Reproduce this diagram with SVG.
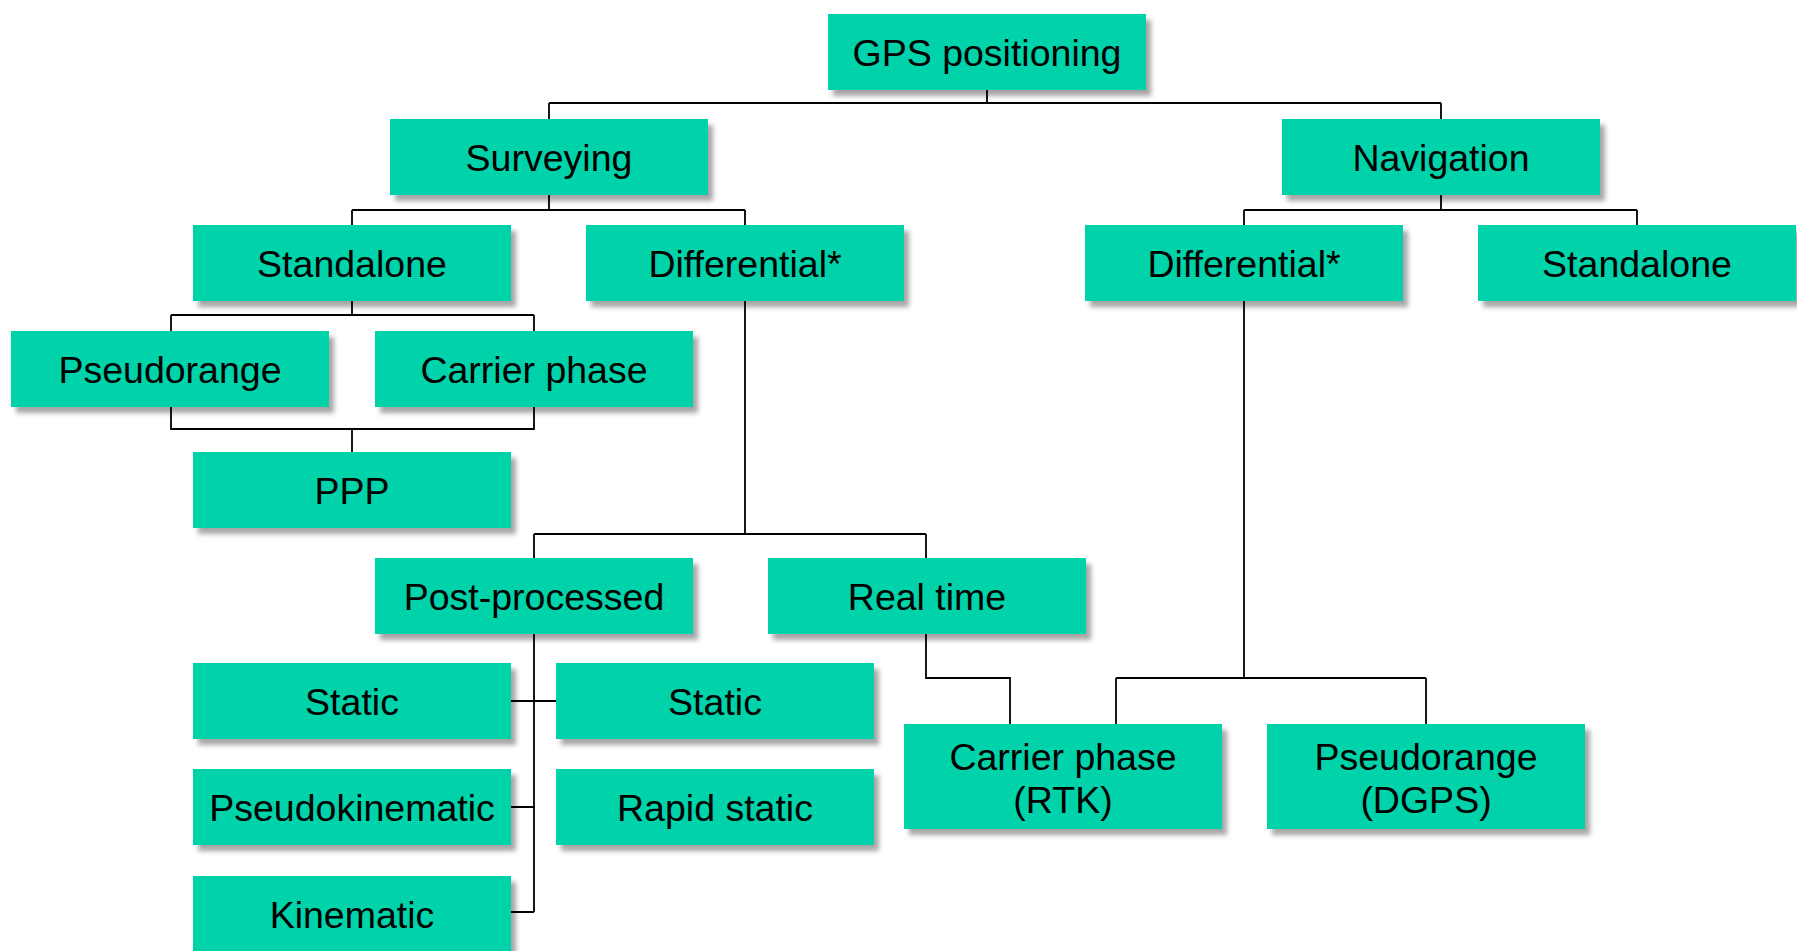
<svg xmlns="http://www.w3.org/2000/svg" width="1797" height="951" viewBox="0 0 1797 951">
<style>
.box{fill:#00D2AA;filter:url(#sh);}
.lbl{font-family:"Liberation Sans",Arial,sans-serif;font-size:37.5px;fill:#000;text-anchor:middle;}
.con{fill:none;stroke:#000;stroke-width:1.8;}
</style>
<defs>
<filter id="sh" x="-10%" y="-20%" width="130%" height="150%">
<feDropShadow dx="5" dy="6" stdDeviation="2.5" flood-color="#000" flood-opacity="0.35"/>
</filter>
</defs>
<rect width="1797" height="951" fill="#fff"/>
<g id="connectors" class="con">
<path d="M987 89V103M549 103H1441M549 103V119M1441 103V119"/>
<path d="M549 195V210M352 210H745M352 210V225M745 210V225"/>
<path d="M1441 195V210M1244 210H1637M1244 210V225M1637 210V225"/>
<path d="M352 300V315M171 315H534M171 315V331M534 315V331"/>
<path d="M171 406V429H534V406M352 429V452"/>
<path d="M745 300V534M534 534H926M534 534V558M926 534V558"/>
<path d="M534 633V912M511 701H556M511 807H534M511 912H534"/>
<path d="M926 633V678H1010V724"/>
<path d="M1244 300V678M1116 678H1426M1116 678V724M1426 678V724"/>
</g>
<g id="n-gps"><rect class="box" x="828" y="14" width="318" height="76"/><text class="lbl" x="987" y="66">GPS positioning</text></g>
<g id="n-surveying"><rect class="box" x="390" y="119" width="318" height="76"/><text class="lbl" x="549" y="171">Surveying</text></g>
<g id="n-navigation"><rect class="box" x="1282" y="119" width="318" height="76"/><text class="lbl" x="1441" y="171">Navigation</text></g>
<g id="n-standalone-s"><rect class="box" x="193" y="225" width="318" height="76"/><text class="lbl" x="352" y="277">Standalone</text></g>
<g id="n-differential-s"><rect class="box" x="586" y="225" width="318" height="76"/><text class="lbl" x="745" y="277">Differential*</text></g>
<g id="n-differential-n"><rect class="box" x="1085" y="225" width="318" height="76"/><text class="lbl" x="1244" y="277">Differential*</text></g>
<g id="n-standalone-n"><rect class="box" x="1478" y="225" width="318" height="76"/><text class="lbl" x="1637" y="277">Standalone</text></g>
<g id="n-pseudorange"><rect class="box" x="11" y="331" width="318" height="76"/><text class="lbl" x="170" y="383">Pseudorange</text></g>
<g id="n-carrierphase"><rect class="box" x="375" y="331" width="318" height="76"/><text class="lbl" x="534" y="383">Carrier phase</text></g>
<g id="n-ppp"><rect class="box" x="193" y="452" width="318" height="76"/><text class="lbl" x="352" y="504">PPP</text></g>
<g id="n-postprocessed"><rect class="box" x="375" y="558" width="318" height="76"/><text class="lbl" x="534" y="610">Post-processed</text></g>
<g id="n-realtime"><rect class="box" x="768" y="558" width="318" height="76"/><text class="lbl" x="927" y="610">Real time</text></g>
<g id="n-static-l"><rect class="box" x="193" y="663" width="318" height="76"/><text class="lbl" x="352" y="715">Static</text></g>
<g id="n-static-r"><rect class="box" x="556" y="663" width="318" height="76"/><text class="lbl" x="715" y="715">Static</text></g>
<g id="n-pseudokinematic"><rect class="box" x="193" y="769" width="318" height="76"/><text class="lbl" x="352" y="821">Pseudokinematic</text></g>
<g id="n-rapidstatic"><rect class="box" x="556" y="769" width="318" height="76"/><text class="lbl" x="715" y="821">Rapid static</text></g>
<g id="n-kinematic"><rect class="box" x="193" y="876" width="318" height="76"/><text class="lbl" x="352" y="928">Kinematic</text></g>
<g id="n-rtk"><rect class="box" x="904" y="724" width="318" height="105"/><text class="lbl" x="1063" y="770">Carrier phase</text><text class="lbl" x="1063" y="813">(RTK)</text></g>
<g id="n-dgps"><rect class="box" x="1267" y="724" width="318" height="105"/><text class="lbl" x="1426" y="770">Pseudorange</text><text class="lbl" x="1426" y="813">(DGPS)</text></g>
</svg>
